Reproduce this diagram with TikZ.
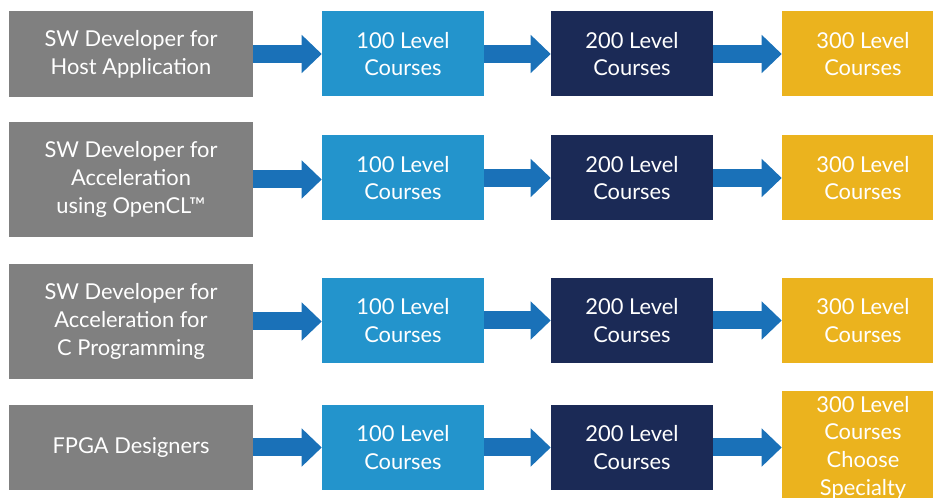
\documentclass[tikz,border=0pt]{standalone}
\usepackage{fontspec}
\setmainfont{Lato}
\usetikzlibrary{arrows.meta}
\definecolor{boxgray}{HTML}{808080}
\definecolor{lvlone}{HTML}{2394CC}
\definecolor{lvltwo}{HTML}{1B2A56}
\definecolor{lvlthree}{HTML}{EBB31E}
\definecolor{arrblue}{HTML}{1A71B8}
\tikzset{
  box/.style={rectangle, inner sep=0pt, text=white, align=center,
    font=\fontsize{16.4}{20.8}\selectfont},
  rolebox/.style={box, fill=boxgray, minimum width=244*0.75pt},
  lvlbox/.style={box, minimum width=162*0.75pt, minimum height=85*0.75pt},
  arr/.style={draw=arrblue, line width=18*0.75pt,
    -{Triangle[length=20*0.75pt, width=37*0.75pt]}},
}
\begin{document}
\begin{tikzpicture}[x=0.75pt,y=-0.75pt]
\useasboundingbox (0,0) rectangle (933,498);
\clip (0,0) rectangle (933,498);
% row 1
\node[rolebox, minimum height=86*0.75pt] (g1) at (131,54) {SW Developer for\\Host Application};
\node[lvlbox, fill=lvlone] (a1) at (403,54) {100 Level\\Courses};
\node[lvlbox, fill=lvltwo] (b1) at (632,54) {200 Level\\Courses};
\node[lvlbox, fill=lvlthree] (c1) at (863,54) {300 Level\\Courses};
% row 2
\node[rolebox, minimum height=115*0.75pt] (g2) at (131,179.5) {SW Developer for\\Acceleration\\using OpenCL™};
\node[lvlbox, fill=lvlone] (a2) at (403,178) {100 Level\\Courses};
\node[lvlbox, fill=lvltwo] (b2) at (632,178) {200 Level\\Courses};
\node[lvlbox, fill=lvlthree] (c2) at (863,178) {300 Level\\Courses};
% row 3
\node[rolebox, minimum height=115*0.75pt] (g3) at (131,321.5) {SW Developer for\\Acceleration for\\C Programming};
\node[lvlbox, fill=lvlone] (a3) at (403,320.5) {100 Level\\Courses};
\node[lvlbox, fill=lvltwo] (b3) at (632,320.5) {200 Level\\Courses};
\node[lvlbox, fill=lvlthree] (c3) at (863,320.5) {300 Level\\Courses};
% row 4
\node[rolebox, minimum height=85*0.75pt] (g4) at (131,447.5) {FPGA Designers};
\node[lvlbox, fill=lvlone] (a4) at (403,447.5) {100 Level\\Courses};
\node[lvlbox, fill=lvltwo] (b4) at (632,447.5) {200 Level\\Courses};
\node[lvlbox, fill=lvlthree, minimum height=113*0.75pt] (c4) at (863,447.5) {300 Level\\Courses\\Choose\\Specialty};
% arrows
\foreach \r in {1,2,3,4}{
  \draw[arr] (g\r.east) -- (g\r.east -| a\r.west);
  \draw[arr] (a\r.east) -- (b\r.west);
  \draw[arr] (b\r.east) -- (c\r.west);
}
\end{tikzpicture}
\end{document}
